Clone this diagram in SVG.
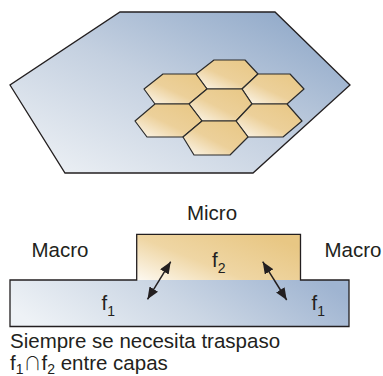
<svg xmlns="http://www.w3.org/2000/svg" width="383" height="376" viewBox="0 0 383 376">
  <style>
    text { font-family: "Liberation Sans", Arial, sans-serif; fill: #231f20; }
    .lbl { font-size: 20.5px; }
    .sub { font-size: 14px; }
    .cap { font-family: "Noto Sans CJK JP", "DejaVu Sans", sans-serif; font-size: 18px; font-weight: 300; }
    .hex { fill: url(#gold); stroke: #2b2b2b; stroke-width: 1.2; stroke-linejoin: round; }
    .outline { fill: none; stroke: #231f20; stroke-width: 1.3; }
    .arrow { stroke: #231f20; stroke-width: 1.5; fill: none; marker-start: url(#head); marker-end: url(#head); }
  </style>
  <defs>
    <linearGradient id="blueBig" x1="0" y1="1" x2="1" y2="0">
      <stop offset="0" stop-color="#f1f4f7"/>
      <stop offset="0.5" stop-color="#c4d0e0"/>
      <stop offset="1" stop-color="#87a2c5"/>
    </linearGradient>
    <linearGradient id="gold" x1="0" y1="1" x2="1" y2="0">
      <stop offset="0" stop-color="#fdf9f1"/>
      <stop offset="0.45" stop-color="#ecd09a"/>
      <stop offset="1" stop-color="#e8c784"/>
    </linearGradient>
    <linearGradient id="goldRect" x1="0" y1="1" x2="1" y2="0.3">
      <stop offset="0" stop-color="#fdf9f1"/>
      <stop offset="0.45" stop-color="#efd6a4"/>
      <stop offset="1" stop-color="#e8c784"/>
    </linearGradient>
    <linearGradient id="blueRect" x1="0" y1="0.6" x2="1" y2="0.4">
      <stop offset="0" stop-color="#eef2f6"/>
      <stop offset="0.5" stop-color="#cbd6e4"/>
      <stop offset="1" stop-color="#9fb4d1"/>
    </linearGradient>
    <marker id="head" viewBox="0 0 12 10" refX="12" refY="5" markerWidth="12" markerHeight="10" markerUnits="userSpaceOnUse" orient="auto-start-reverse">
      <path d="M0,0 L12,5 L0,10 Z" fill="#231f20"/>
    </marker>
  </defs>

  <g id="plane">
    <polygon points="120,12 275,12 350,85 253,173 65,173 10,85" fill="url(#blueBig)" stroke="#231f20" stroke-width="1.3" stroke-linejoin="miter"/>
  </g>

  <g id="cells">
    <polygon id="hex-top" class="hex" points="214,60 245,60 258,74 242,89 207,89 196,74"/>
    <polygon id="hex-upper-left" class="hex" points="163,74 196,74 207,89 189,104 155,104 144,89"/>
    <polygon id="hex-upper-right" class="hex" points="258,74 290,74 304,89 287,104 252,104 242,89"/>
    <polygon id="hex-center" class="hex" points="207,89 242,89 252,104 236,121 202,121 189,104"/>
    <polygon id="hex-lower-left" class="hex" points="155,104 189,104 202,121 183,137 147,137 135,121"/>
    <polygon id="hex-lower-right" class="hex" points="252,104 287,104 302,121 283,137 248,137 236,121"/>
    <polygon id="hex-bottom" class="hex" points="202,121 236,121 248,137 230,155 194,155 183,137"/>
  </g>

  <g id="layers">
    <rect id="macro-layer" x="10" y="280" width="339" height="46.5" fill="url(#blueRect)"/>
    <rect id="micro-layer" x="136.7" y="234.3" width="163.8" height="45.7" fill="url(#goldRect)"/>
    <path class="outline" d="M10,280 H136.7 V234.3 H300.5 V280 H349 V326.5 H10 Z"/>
  </g>

  <g id="labels">
    <text class="lbl" x="212" y="220" text-anchor="middle">Micro</text>
    <text class="lbl" x="31.5" y="256.5">Macro</text>
    <text class="lbl" x="324.5" y="256.5">Macro</text>
    <text class="lbl" x="212" y="266.7">f<tspan class="sub" dy="6.5">2</tspan></text>
    <text class="lbl" x="101.5" y="310">f<tspan class="sub" dy="6">1</tspan></text>
    <text class="lbl" x="311.5" y="310">f<tspan class="sub" dy="6">1</tspan></text>
  </g>

  <g id="connectors">
    <line class="arrow" x1="147.5" y1="299.3" x2="170.7" y2="261.7"/>
    <line class="arrow" x1="286.7" y1="300" x2="262.7" y2="261.7"/>
  </g>

  <g id="caption">
    <text class="lbl" x="10" y="347.5">Siempre se necesita traspaso</text>
    <text class="lbl" x="10" y="370">f<tspan class="sub" dy="4">1</tspan><tspan class="cap" dy="-4">∩</tspan>f<tspan class="sub" dy="4">2</tspan><tspan dy="-4"> entre capas</tspan></text>
  </g>
</svg>
